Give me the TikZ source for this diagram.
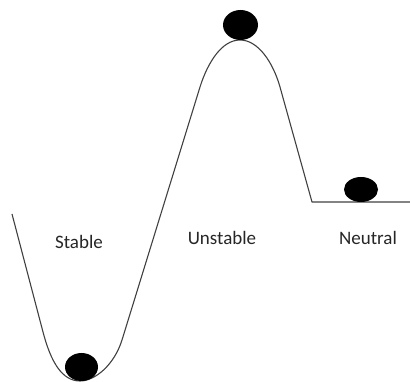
\documentclass[tikz,border=0pt]{standalone}
\usepackage{fontspec}
\setmainfont{Carlito}
\usetikzlibrary{shapes.geometric}
\tikzset{
  track/.style={draw=black!75, line width=1.1pt, line join=round},
  ball/.style={ellipse, fill=black, inner sep=0pt},
  label/.style={font=\fontsize{19}{22}\selectfont, text=black!85, inner sep=0pt}
}
\begin{document}
\begin{tikzpicture}[x=1pt,y=1pt]
  \useasboundingbox (0,0) rectangle (410,382);
  % the energy landscape: valley, hill and flat shelf
  \draw[track] (12,168) -- (43,50)
    .. controls (50.9,20) and (62,1) .. (80,1)
    .. controls (95,1) and (114.2,17) .. (122,42)
    -- (200,295)
    .. controls (207.9,320) and (222,342) .. (240,342)
    .. controls (258,342) and (272.9,320) .. (280,295)
    -- (312,180) -- (410,180);
  % the three balls
  \node[ball, minimum width=33pt, minimum height=28pt] (stableball) at (81.5,15) {};
  \node[ball, minimum width=35pt, minimum height=30pt] (unstableball) at (240.5,357) {};
  \node[ball, minimum width=34pt, minimum height=25pt] (neutralball) at (361,192.5) {};
  % captions
  \node[label] (stable) at (79,140) {Stable};
  \node[label] (unstable) at (222,144) {Unstable};
  \node[label] (neutral) at (368,144) {Neutral};
\end{tikzpicture}
\end{document}
